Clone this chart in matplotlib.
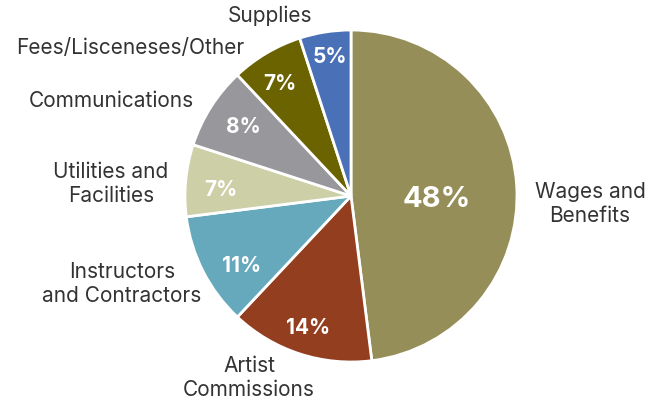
import matplotlib
matplotlib.use("Agg")
import matplotlib.pyplot as plt

categories = ["Wages and\nBenefits", "Artist\nCommissions", "Instructors\nand Contractors",
              "Utilities and\nFacilities", "Communications", "Fees/Lisceneses/Other", "Supplies"]
values = [48, 14, 11, 7, 8, 7, 5]
colors = ["#968E58", "#943E20", "#66A8BC", "#CDCFA7", "#98989C", "#6B6300", "#4A71B8"]

# layout: pixel centres of the outer labels and the percent labels
label_px = [(590, 204), (249, 378), (122, 284), (111, 184), (111, 101), (130, 48), (270, 16)]
pct_px = [(437, 197), (308, 326), (242, 264), (221, 188), (243, 125), (280, 82), (330, 55)]

W, H = 669, 406
cx, cy, r = 351, 197, 166

plt.rcParams["font.family"] = ["Inter", "DejaVu Sans"]
fig = plt.figure(figsize=(W / 100, H / 100), dpi=100)
ax = fig.add_axes([(cx - r) / W, (H - cy - r) / H, 2 * r / W, 2 * r / H])
wedges, _ = ax.pie(values, colors=colors, startangle=90, counterclock=False,
                   wedgeprops=dict(edgecolor="white", linewidth=2))
ax.set_xlim(-1, 1)
ax.set_ylim(-1, 1)
ax.set_aspect("equal")
ax.axis("off")


def to_data(px, py):
    return (px - cx) / r, (cy - py) / r


for v, (px, py) in zip(values, pct_px):
    size = 21 if v == max(values) else 15
    x, y = to_data(px, py)
    ax.text(x, y, f"{v}%", ha="center", va="center_baseline",
            color="white", fontweight="bold", fontsize=size)

for lab, (px, py) in zip(categories, label_px):
    x, y = to_data(px, py)
    ax.text(x, y, lab, ha="center", va="center", fontsize=15, color="#333333",
            linespacing=1.25, clip_on=False)

fig.savefig("out.png", dpi=100)
